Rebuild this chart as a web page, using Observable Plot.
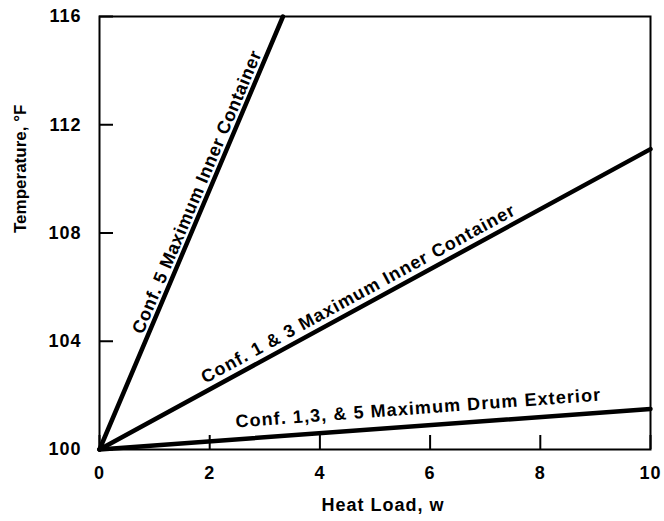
<!DOCTYPE html>
<html><head><meta charset="utf-8">
<script src="https://cdn.jsdelivr.net/npm/d3@7"></script>
<script src="https://cdn.jsdelivr.net/npm/@observablehq/plot@0.6"></script>
<style>body{margin:0;background:#fff}</style>
</head><body><div id="chart"></div>
<script>
// Data
const seriesNames = ["Conf. 5 Maximum Inner Container", "Conf. 1 & 3 Maximum Inner Container", "Conf. 1,3, & 5 Maximum Drum Exterior"];
const startLoad = [0, 0, 0];
const startTemp = [100, 100, 100];
const endLoad = [3.33, 10, 10];
const endTemp = [116, 111.1, 101.5];
const labelLoad = [1.95, 4.81, 5.81];
const labelTemp = [109.36, 105.34, 100.87];
const xTicks = [0, 2, 4, 6, 8, 10];
const yTicks = [100, 104, 108, 112, 116];
const xLabel = "Heat Load, w";
const yLabel = "Temperature, °F";

// Layout
const W = 664, H = 521, ML = 99, MR = 14, MT = 16, MB = 72;
const plotW = W - ML - MR, plotH = H - MT - MB;
const kx = plotW / (xTicks[xTicks.length-1] - xTicks[0]);
const ky = plotH / (yTicks[yTicks.length-1] - yTicks[0]);
const labelGap = [5, 7, 12];
const labelSpacing = [0.6, 1.0, 1.1];

const lines = seriesNames.map((name, i) => ({
  name, x1: startLoad[i], y1: startTemp[i], x2: endLoad[i], y2: endTemp[i],
  lx: labelLoad[i], ly: labelTemp[i],
  angle: Math.atan2((endTemp[i]-startTemp[i])*ky, (endLoad[i]-startLoad[i])*kx)
}));

const labelMarks = lines.map((d, i) => Plot.text([d], {
  x: "lx", y: "ly", text: "name",
  rotate: -d.angle * 180 / Math.PI,
  textAnchor: "middle", lineAnchor: "bottom",
  dx: -labelGap[i] * Math.sin(d.angle),
  dy: -labelGap[i] * Math.cos(d.angle),
  fontSize: 18, fontWeight: "bold", fill: "#000"
}));

const plot = Plot.plot({
  width: W, height: H,
  marginLeft: ML, marginRight: MR, marginTop: MT, marginBottom: MB,
  style: {fontFamily: "'Liberation Sans', Arial, Helvetica, sans-serif", background: "#fff", color: "#000"},
  x: {domain: [0, 10], label: null, axis: null},
  y: {domain: [100, 116], label: null, axis: null},
  marks: [
    Plot.frame({stroke: "#000", strokeWidth: 2}),
    Plot.tickX(xTicks, {x: d => d, insetTop: plotH - 14, stroke: "#000", strokeWidth: 2}),
    Plot.tickY(yTicks, {y: d => d, insetRight: plotW - 14, stroke: "#000", strokeWidth: 2}),
    Plot.text(xTicks, {x: d => d, frameAnchor: "bottom", dy: 17, lineAnchor: "top", text: d => String(d), fontSize: 18, fontWeight: "bold", fill: "#000"}),
    Plot.text(yTicks, {y: d => d, frameAnchor: "left", dx: -18, textAnchor: "end", lineAnchor: "middle", text: d => String(d), fontSize: 18, fontWeight: "bold", fill: "#000"}),
    Plot.link(lines, {x1: "x1", y1: "y1", x2: "x2", y2: "y2", stroke: "#000", strokeWidth: 4.5, strokeLinecap: "round"}),
    ...labelMarks,
    Plot.text([xLabel], {frameAnchor: "bottom", dy: 56, dx: 8, lineAnchor: "middle", fontSize: 18, fontWeight: "bold", fill: "#000"}),
    Plot.text([yLabel], {frameAnchor: "left", dx: -79, rotate: -90, lineAnchor: "middle", fontSize: 17, fontWeight: "bold", fill: "#000"})
  ]
});
document.getElementById("chart").appendChild(plot);
const spacingByText = new Map(seriesNames.map((n, i) => [n, labelSpacing[i]]));
spacingByText.set(xLabel, 1);
xTicks.forEach(t => spacingByText.set(String(t), 1));
yTicks.forEach(t => spacingByText.set(String(t), 1));
plot.querySelectorAll("text").forEach(t => {
  const s = spacingByText.get(t.textContent);
  if (s !== undefined) t.setAttribute("letter-spacing", s);
});
</script>
</body></html>
